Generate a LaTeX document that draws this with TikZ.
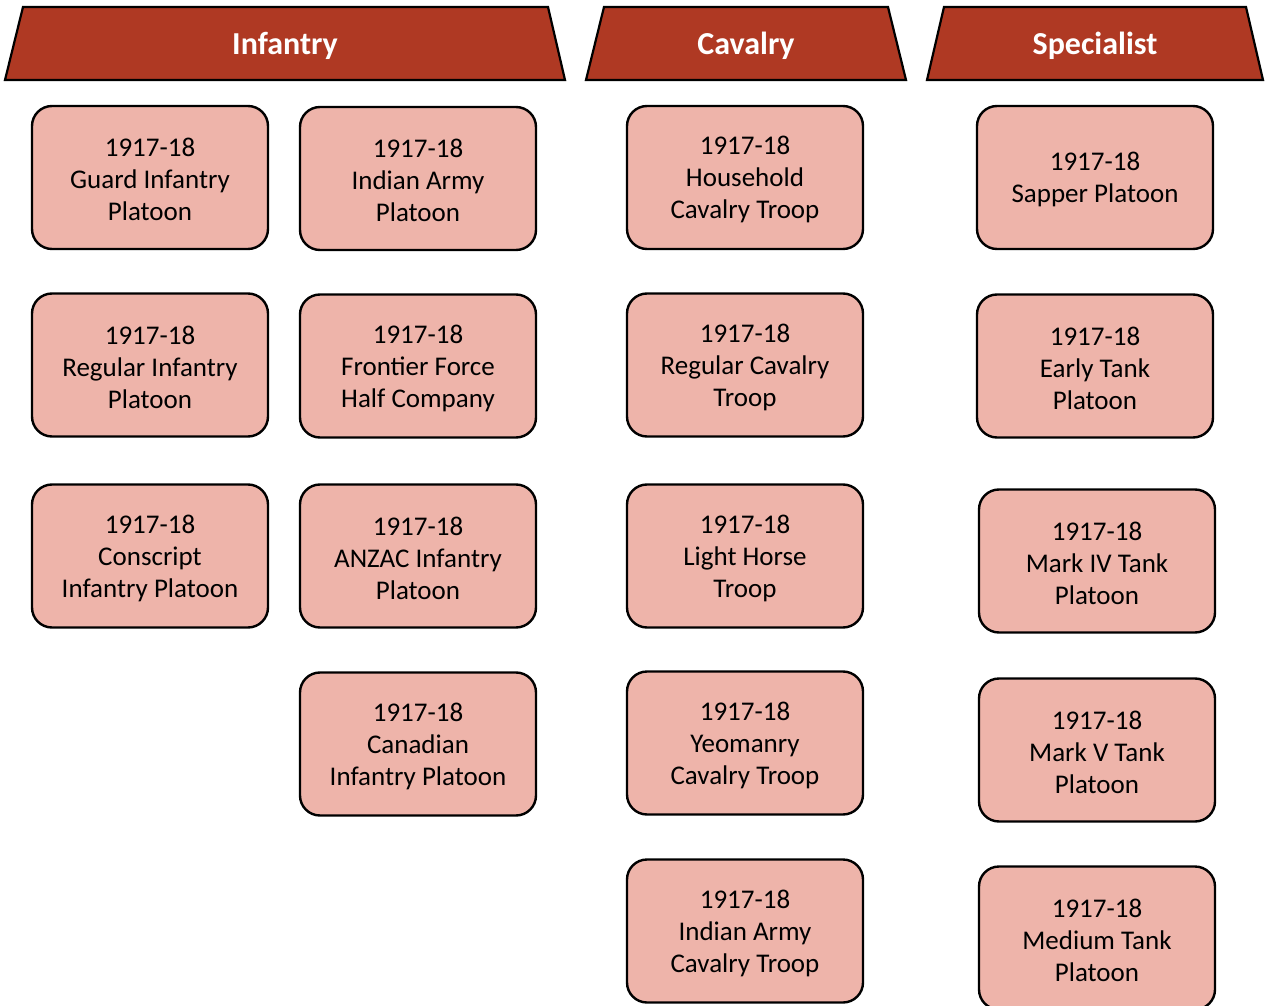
\documentclass[tikz,border=0pt]{standalone}
\usepackage{fontspec}
\setmainfont{Carlito}
\definecolor{hdrred}{RGB}{175,57,35}
\definecolor{unitpink}{RGB}{238,180,170}
\begin{document}
\begin{tikzpicture}[x=1pt,y=-1pt,
  hdr/.style={fill=hdrred,draw=black,line width=2.2pt,line join=miter},
  hdrtext/.style={text=white,font=\fontsize{32}{36}\selectfont\bfseries,inner sep=0pt},
  unit/.style={draw=black,fill=unitpink,line width=2.4pt,rounded corners=20pt,
    minimum width=236pt,minimum height=143pt,inner sep=0pt,
    label={[unittext]center:#1}},
  unittext/.style={align=center,inner sep=0pt,yshift=-2pt,
    font=\fontsize{27}{32}\selectfont}]
\useasboundingbox (0,0) rectangle (1270,1006);
\clip (0,0) rectangle (1270,1006);

% column headers
\draw[hdr] (23,7) -- (548,7) -- (565,80) -- (5,80) -- cycle;
\node[hdrtext] (hinf) at (285,46) {Infantry};
\draw[hdr] (604,7) -- (888,7) -- (906,80) -- (586,80) -- cycle;
\node[hdrtext] (hcav) at (746,46) {Cavalry};
\draw[hdr] (944,7) -- (1246,7) -- (1263,80) -- (927,80) -- cycle;
\node[hdrtext] (hspe) at (1095,46) {Specialist};

% infantry units
\node[unit={1917-18\\Guard Infantry\\Platoon}] (inf1) at (150,177.5) {};
\node[unit={1917-18\\Regular Infantry\\Platoon}] (inf2) at (150,365) {};
\node[unit={1917-18\\Conscript\\Infantry Platoon}] (inf3) at (150,556) {};
\node[unit={1917-18\\Indian Army\\Platoon}] (inf4) at (418,178.5) {};
\node[unit={1917-18\\Frontier Force\\Half Company}] (inf5) at (418,366) {};
\node[unit={1917-18\\ANZAC Infantry\\Platoon}] (inf6) at (418,556) {};
\node[unit={1917-18\\Canadian\\Infantry Platoon}] (inf7) at (418,744) {};

% cavalry units
\node[unit={1917-18\\Household\\Cavalry Troop}] (cav1) at (745,177.5) {};
\node[unit={1917-18\\Regular Cavalry\\Troop}] (cav2) at (745,365) {};
\node[unit={1917-18\\Light Horse\\Troop}] (cav3) at (745,556) {};
\node[unit={1917-18\\Yeomanry\\Cavalry Troop}] (cav4) at (745,743) {};
\node[unit={1917-18\\Indian Army\\Cavalry Troop}] (cav5) at (745,931) {};

% specialist units
\node[unit={1917-18\\Sapper Platoon}] (spe1) at (1095,177.5) {};
\node[unit={1917-18\\Early Tank\\Platoon}] (spe2) at (1095,366) {};
\node[unit={1917-18\\Mark IV Tank\\Platoon}] (spe3) at (1097,561) {};
\node[unit={1917-18\\Mark V Tank\\Platoon}] (spe4) at (1097,750) {};
\node[unit={1917-18\\Medium Tank\\Platoon}] (spe5) at (1097,938) {};
\end{tikzpicture}
\end{document}
